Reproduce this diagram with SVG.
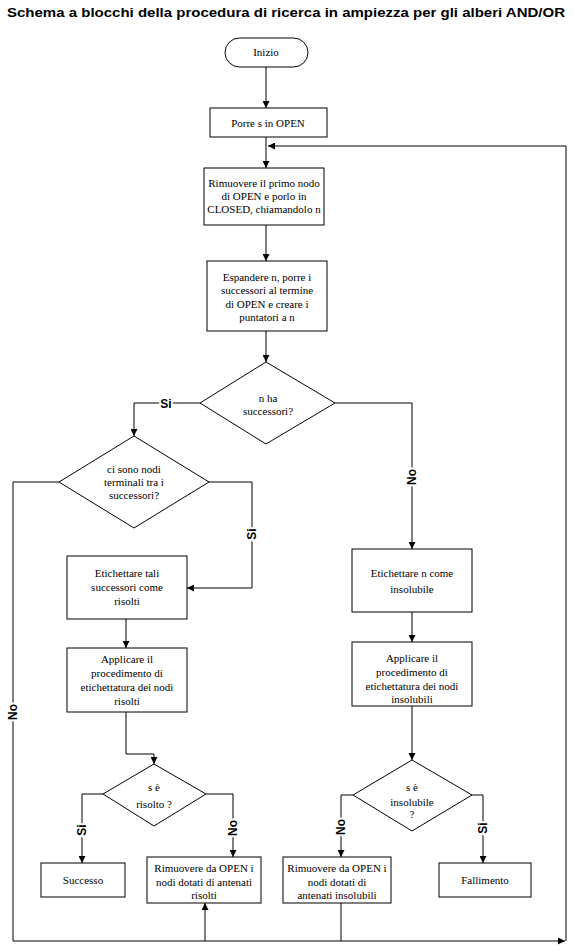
<svg xmlns="http://www.w3.org/2000/svg" width="573" height="952" viewBox="0 0 573 952">
<style>
.b{fill:#fff;stroke:#000;stroke-width:1}
.t{font-family:"Liberation Serif","Times New Roman",serif;font-size:11px;fill:#000;text-anchor:middle}
.l{font-family:"Liberation Sans",Arial,sans-serif;font-size:12px;font-weight:bold;fill:#000;text-anchor:middle;stroke:#fff;stroke-width:4px;paint-order:stroke}
.c{fill:none;stroke:#000;stroke-width:1}
</style>
<defs>
<marker id="a" viewBox="0 0 8 8" refX="8" refY="4" markerWidth="7" markerHeight="7" orient="auto" markerUnits="userSpaceOnUse">
<path d="M0,0 L8,4 L0,8 z" fill="#000"/>
</marker>
</defs>
<rect width="573" height="952" fill="#fff"/>
<text x="286" y="17" font-family="Liberation Sans, Arial, sans-serif" font-size="12" font-weight="bold" text-anchor="middle" textLength="558" lengthAdjust="spacingAndGlyphs">Schema a blocchi della procedura di ricerca in ampiezza per gli alberi AND/OR</text>

<g id="connectors">
<path class="c" d="M266,67 V108" marker-end="url(#a)"/>
<path class="c" d="M266,137 V168" marker-end="url(#a)"/>
<path class="c" d="M566,941 V146 H268" marker-end="url(#a)"/>
<path class="c" d="M266,225 V261" marker-end="url(#a)"/>
<path class="c" d="M266,331 V362" marker-end="url(#a)"/>
<path class="c" d="M200,403 H134 V436" marker-end="url(#a)"/>
<path class="c" d="M335,403 H412 V549" marker-end="url(#a)"/>
<path class="c" d="M209,482 H252 V588 H187" marker-end="url(#a)"/>
<path class="c" d="M59,482 H13 V941 H565" marker-end="url(#a)"/>
<path class="c" d="M126,619 V648" marker-end="url(#a)"/>
<path class="c" d="M126,712 V754 H154 V764" marker-end="url(#a)"/>
<path class="c" d="M103,794 H82 V863" marker-end="url(#a)"/>
<path class="c" d="M206,794 H233 V857" marker-end="url(#a)"/>
<path class="c" d="M205,941 V903" marker-end="url(#a)"/>
<path class="c" d="M412,612 V642" marker-end="url(#a)"/>
<path class="c" d="M412,706 V760" marker-end="url(#a)"/>
<path class="c" d="M353,795 H341 V857" marker-end="url(#a)"/>
<path class="c" d="M472,795 H483 V863" marker-end="url(#a)"/>
<path class="c" d="M341,903 V941"/>
<text class="l" x="166" y="408">Si</text>
<text class="l" transform="translate(416,477) rotate(-90)">No</text>
<text class="l" transform="translate(256,534) rotate(-90)">Si</text>
<text class="l" transform="translate(17,712) rotate(-90)">No</text>
<text class="l" transform="translate(86,830) rotate(-90)">Si</text>
<text class="l" transform="translate(237,828) rotate(-90)">No</text>
<text class="l" transform="translate(345,827) rotate(-90)">No</text>
<text class="l" transform="translate(487,828) rotate(-90)">Si</text>
</g>

<g id="inizio">
<rect class="b" x="225" y="38" width="83" height="29" rx="14.5"/>
<text class="t" x="266" y="56">Inizio</text>
</g>
<g id="porre">
<rect class="b" x="210" y="108" width="117" height="29"/>
<text class="t" x="268" y="127">Porre s in OPEN</text>
</g>
<g id="rimuovere-primo">
<rect class="b" x="204" y="168" width="120" height="57"/>
<text class="t" x="264" y="187">Rimuovere il primo nodo</text>
<text class="t" x="264" y="200">di OPEN e porlo in</text>
<text class="t" x="264" y="213">CLOSED, chiamandolo n</text>
</g>
<g id="espandere">
<rect class="b" x="207" y="261" width="120" height="70"/>
<text class="t" x="267" y="281">Espandere n, porre i</text>
<text class="t" x="267" y="294">successori al termine</text>
<text class="t" x="267" y="307.5">di OPEN e creare i</text>
<text class="t" x="267" y="321">puntatori a n</text>
</g>
<g id="ha-successori">
<path class="b" d="M266,362 L335,403 L266,444 L200,403 z"/>
<text class="t" x="268" y="402">n ha</text>
<text class="t" x="268" y="415">successori?</text>
</g>
<g id="nodi-terminali">
<path class="b" d="M134,436 L209,482 L134,528 L59,482 z"/>
<text class="t" x="134" y="473">ci sono nodi</text>
<text class="t" x="134" y="486">terminali tra i</text>
<text class="t" x="134" y="499">successori?</text>
</g>
<g id="etichettare-risolti">
<rect class="b" x="67" y="556" width="120" height="63"/>
<text class="t" x="127" y="577">Etichettare tali</text>
<text class="t" x="127" y="591">successori come</text>
<text class="t" x="127" y="605">risolti</text>
</g>
<g id="applicare-risolti">
<rect class="b" x="67" y="648" width="120" height="64"/>
<text class="t" x="127" y="663">Applicare il</text>
<text class="t" x="127" y="677">procedimento di</text>
<text class="t" x="127" y="691">etichettatura dei nodi</text>
<text class="t" x="127" y="705">risolti</text>
</g>
<g id="s-risolto">
<path class="b" d="M154,764 L206,794 L154,826 L103,794 z"/>
<text class="t" x="154" y="791">s è</text>
<text class="t" x="154" y="808">risolto ?</text>
</g>
<g id="successo">
<rect class="b" x="41" y="863" width="84" height="34"/>
<text class="t" x="83" y="884">Successo</text>
</g>
<g id="rimuovere-risolti">
<rect class="b" x="147" y="857" width="114" height="46"/>
<text class="t" x="204" y="872">Rimuovere da OPEN i</text>
<text class="t" x="204" y="886">nodi dotati di antenati</text>
<text class="t" x="204" y="899">risolti</text>
</g>
<g id="etichettare-insolubile">
<rect class="b" x="352" y="549" width="120" height="63"/>
<text class="t" x="412" y="577">Etichettare n come</text>
<text class="t" x="412" y="593">insolubile</text>
</g>
<g id="applicare-insolubili">
<rect class="b" x="352" y="642" width="120" height="64"/>
<text class="t" x="412" y="662">Applicare il</text>
<text class="t" x="412" y="676">procedimento di</text>
<text class="t" x="412" y="690">etichettatura dei nodi</text>
<text class="t" x="412" y="703">insolubili</text>
</g>
<g id="s-insolubile">
<path class="b" d="M412,760 L472,795 L412,831 L353,795 z"/>
<text class="t" x="412" y="791">s è</text>
<text class="t" x="412" y="806">insolubile</text>
<text class="t" x="412" y="818">?</text>
</g>
<g id="rimuovere-insolubili">
<rect class="b" x="283" y="857" width="108" height="46"/>
<text class="t" x="337" y="872">Rimuovere da OPEN i</text>
<text class="t" x="337" y="886">nodi dotati di</text>
<text class="t" x="337" y="899">antenati insolubili</text>
</g>
<g id="fallimento">
<rect class="b" x="439" y="863" width="92" height="34"/>
<text class="t" x="485" y="884">Fallimento</text>
</g>
</svg>
